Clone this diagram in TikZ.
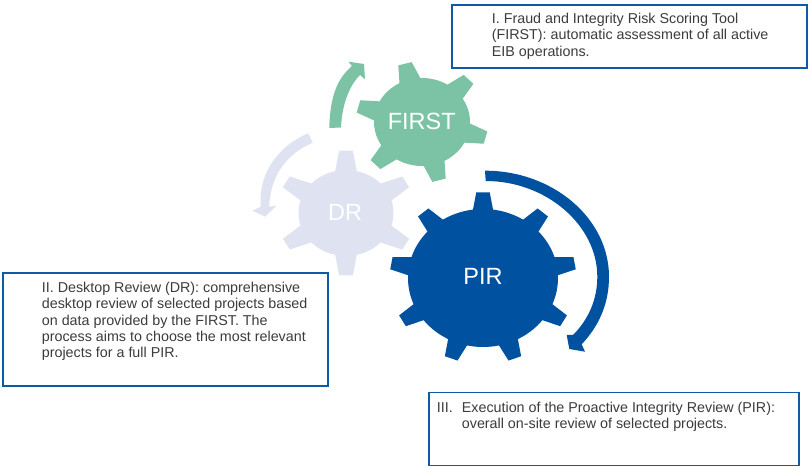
\documentclass[tikz,border=0pt]{standalone}
\usepackage{fontspec}
\setmainfont{Liberation Sans}
\definecolor{firstgreen}{HTML}{7CC2A5}
\definecolor{drlilac}{HTML}{DFE3F1}
\definecolor{pirblue}{HTML}{00519F}
\definecolor{boxblue}{HTML}{0F5AA5}
\definecolor{bodytext}{HTML}{3C3C3C}
\tikzset{
  infobox/.style={draw=boxblue,line width=1.8pt,fill=white,rectangle,inner sep=0pt},
  infotext/.style={anchor=north west,inner sep=0pt,align=left,text=bodytext,
    font=\fontsize{14.3}{16.3}\selectfont},
  geartext/.style={inner sep=0pt,text=white,font=\fontsize{23.5}{26}\selectfont}
}
% #1 centre x, #2 centre y, #3 body rx, #4 body ry, #5 tip radius ratio,
% #6 tooth count, #7 first tooth angle, #8 colour, #9 half widths base/tip
\newcommand{\cogwheel}[9]{%
  \begin{scope}[shift={(#1,#2)},xscale=#3,yscale=#4]
    \fill[#8] (0,0) circle (1);
    \pgfmathsetmacro{\stepangle}{360/#6}
    \foreach \k in {1,...,#6}{
      \pgfmathsetmacro{\toothangle}{#7+\k*\stepangle}
      \begin{scope}[rotate=\toothangle]
        \pgfmathsetmacro{\hb}{#9}
        \pgfmathsetmacro{\ht}{#9*0.6}
        \fill[#8] (0.9,-\hb) -- (#5,-\ht) -- (#5,\ht) -- (0.9,\hb) -- cycle;
      \end{scope}
    }
  \end{scope}}
\begin{document}
\begin{tikzpicture}[x=1pt,y=1pt]
\useasboundingbox (0,0) rectangle (808,470);
\fill[white] (0,0) rectangle (808,470);

% gears
\cogwheel{346}{257}{47.5}{43}{1.45}{6}{90}{drlilac}{0.24}
\cogwheel{422}{348}{48}{44}{1.37}{6}{45}{firstgreen}{0.24}
\cogwheel{483}{192}{75}{69}{1.24}{9}{90}{pirblue}{0.15}
\node[geartext] (first) at (421.7,349) {FIRST};
\node[geartext] (dr) at (345,258) {DR};
\node[geartext] (pir) at (483,194) {PIR};

% rotation arrows
\fill[firstgreen] (329.3,342) .. controls (330,375) and (338,392) .. (352,404)
  -- (348.3,408.3) -- (364,406) -- (365,390.7) -- (360,395)
  .. controls (349,384) and (342,365) .. (341,342.5) -- cycle;
\fill[drlilac] (308.3,336.7) .. controls (282,326) and (258,300) .. (260.7,263.3)
  -- (252.3,259.3) -- (265,253.3) -- (276.7,264.3) -- (269.3,263.3)
  .. controls (270,295) and (288,317) .. (312.7,327.3) -- cycle;
\fill[pirblue] (485,299.3) .. controls (553,299.3) and (609,251.5) .. (609,193.3)
  .. controls (609,165) and (598,143) .. (581.7,125.7)
  -- (585,118.3) -- (569.3,121) -- (566.7,135) -- (573,135)
  .. controls (588,150) and (597.3,170) .. (597.3,193.3)
  .. controls (597.3,245) and (546,289) .. (485.7,289) -- cycle;

% description boxes
\node[infobox,minimum width=355pt,minimum height=63pt] (boxI) at (629.5,433.5) {};
\node[infobox,minimum width=325pt,minimum height=113pt] (boxII) at (165.5,140.5) {};
\node[infobox,minimum width=370pt,minimum height=73pt] (boxIII) at (614,41) {};
\node[infotext] (textI) at (491.7,457) {I. Fraud and Integrity Risk Scoring Tool\\(FIRST): automatic assessment of all active\\EIB operations.};
\node[infotext] (textII) at (41.7,188) {II. Desktop Review (DR): comprehensive\\desktop review of selected projects based\\on data provided by the FIRST. The\\process aims to choose the most relevant\\projects for a full PIR.};
\node[infotext] (textIII) at (436.7,68) {\makebox[25pt][l]{III.}Execution of the Proactive Integrity Review (PIR):\\\hspace*{25pt}overall on-site review of selected projects.};
\end{tikzpicture}
\end{document}
